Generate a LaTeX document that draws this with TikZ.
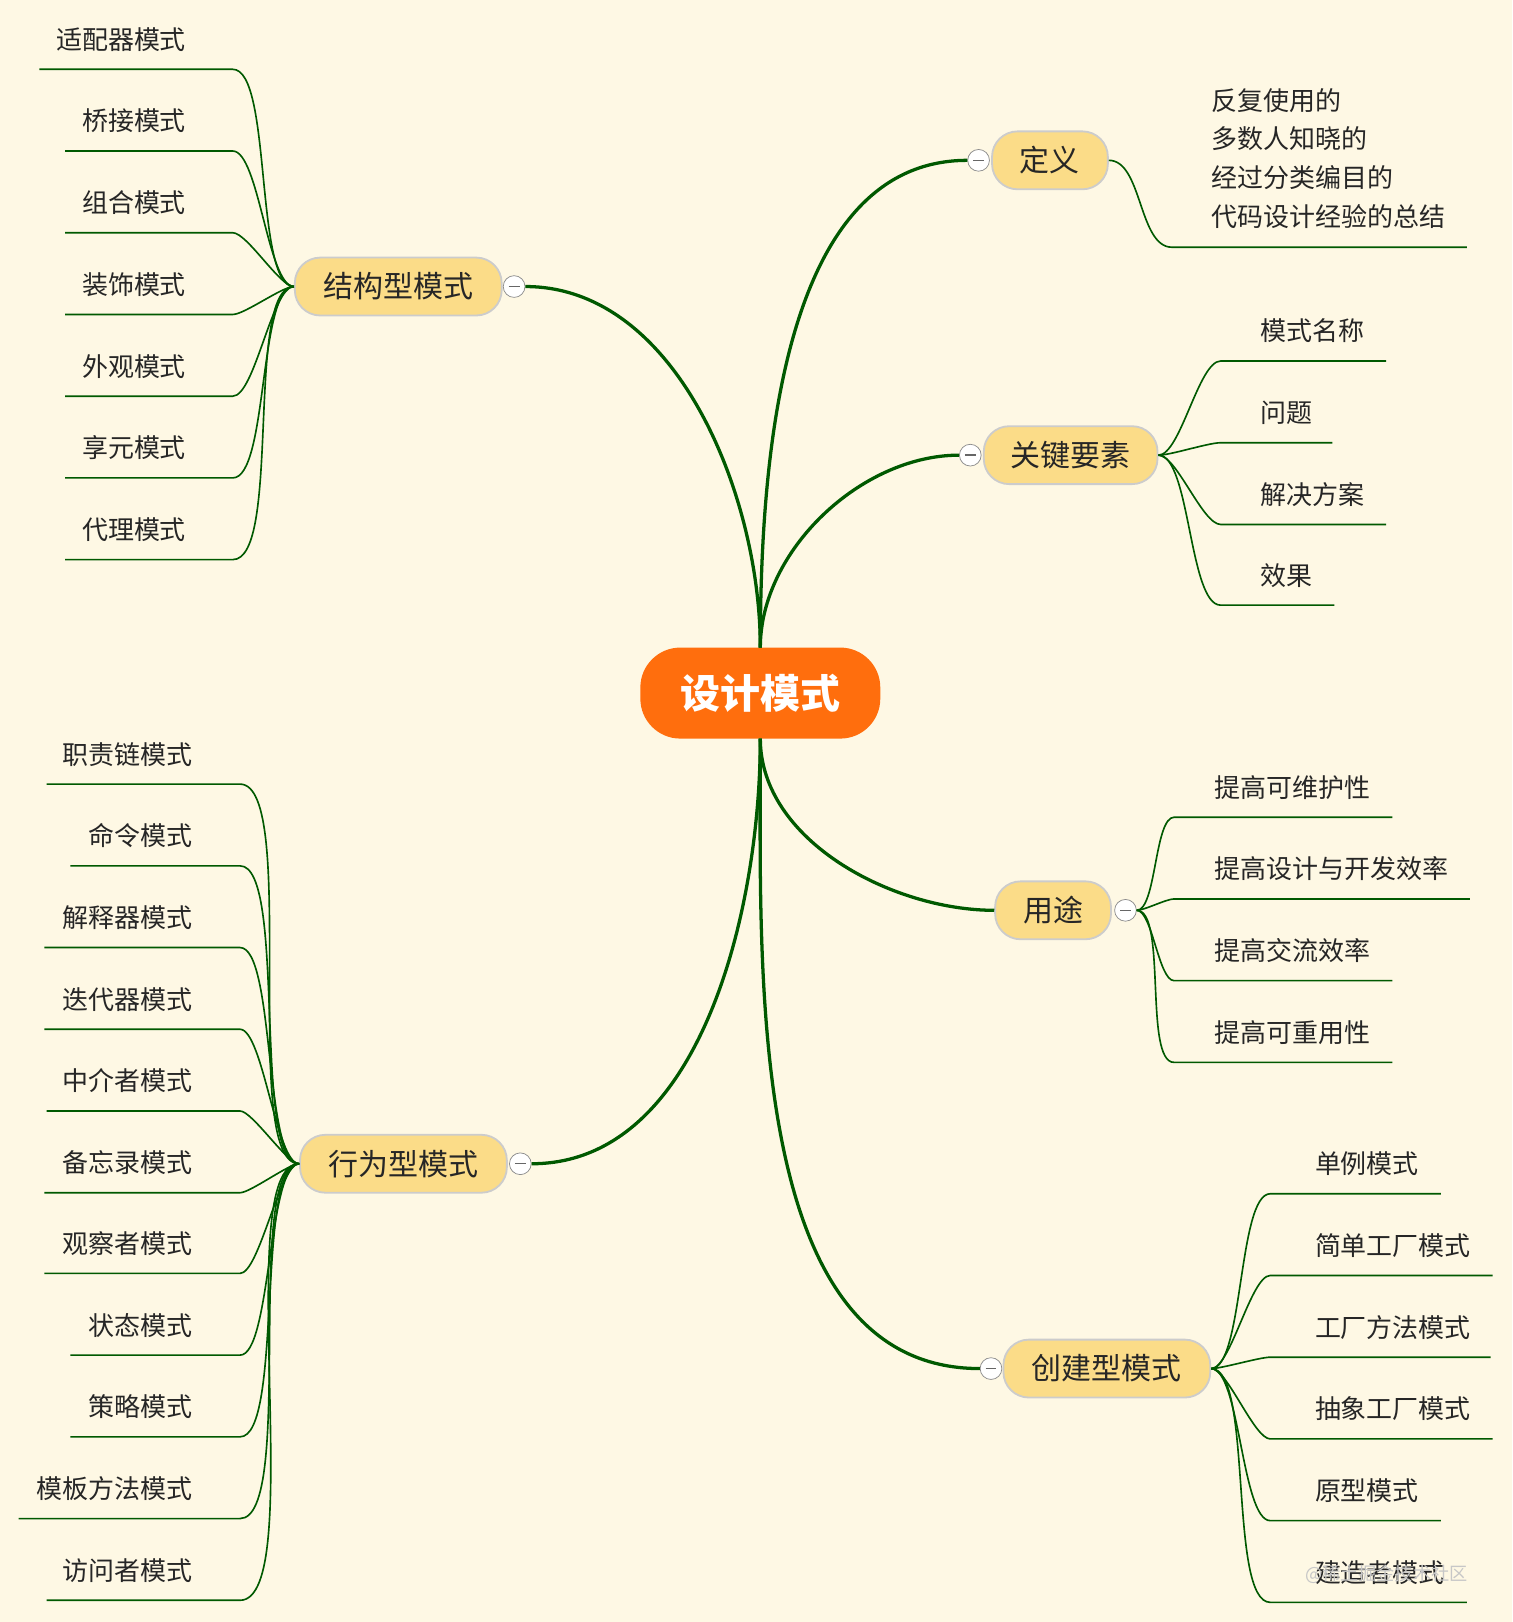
\documentclass[tikz,border=0pt]{standalone}
\usepackage{fontspec}
\setmainfont{Noto Sans CJK SC}
\definecolor{bg}{RGB}{254,248,228}
\definecolor{br}{RGB}{251,220,136}
\begin{document}
\begin{tikzpicture}[x=0.02cm,y=-0.02cm,
  branch/.style={draw=black!20,line width=1pt,fill=br,rounded corners=14pt,minimum height=1.12cm,font=\fontsize{16.5}{18}\selectfont,text=black!85},
  main/.style={draw=green!35!black,line width=1.8pt},
  leafline/.style={draw=green!35!black,line width=0.9pt},
  leaf/.style={font=\fontsize{14.3}{16}\selectfont,text=black!85},
  coll/.style={circle,draw=black!45,fill=white,minimum size=0.42cm,inner sep=0pt,path picture={\draw[black!60,line width=0.8pt] ([xshift=-3pt]path picture bounding box.center)--([xshift=3pt]path picture bounding box.center);}}]
\fill[bg] (0,0) rectangle (1462,1568);
\useasboundingbox (0,0) rectangle (1462,1568);
% center
\node[fill=orange!80!red!95,rounded corners=22pt,minimum width=4.64cm,minimum height=1.76cm,text=white,font=\fontsize{22}{24}\selectfont\bfseries] (c) at (735,670) {设计模式};
\coordinate (ct) at (735,626); \coordinate (cb) at (735,714);
% branches
\node[branch,minimum width=2.24cm] (def) at (1015,155) {定义};
\node[branch,minimum width=3.36cm] (key) at (1035,440) {关键要素};
\node[branch,minimum width=4cm] (str) at (385,277) {结构型模式};
\node[branch,minimum width=2.24cm] (use) at (1018,880) {用途};
\node[branch,minimum width=4cm] (beh) at (390,1125) {行为型模式};
\node[branch,minimum width=4cm] (cre) at (1070,1323) {创建型模式};
\node[coll] (kdef) at (946,155) {};
\node[coll] (kkey) at (938,440) {};
\node[coll] (kstr) at (497,277) {};
\node[coll] (kuse) at (1088,880) {};
\node[coll] (kbeh) at (503,1125) {};
\node[coll] (kcre) at (958,1323) {};
\draw[main] (ct) to[out=90,in=180,looseness=0.9] (kdef.west);
\draw[main] (ct) to[out=90,in=180,looseness=0.9] (kkey.west);
\draw[main] (ct) to[out=90,in=0,looseness=0.9] (kstr.east);
\draw[main] (cb) to[out=-90,in=180,looseness=0.9] (use.west);
\draw[main] (cb) to[out=-90,in=0,looseness=0.9] (kbeh.east);
\draw[main] (cb) to[out=-90,in=180,looseness=0.9] (kcre.west);
% definition leaf
\coordinate (d0) at (1133,239); \coordinate (d1) at (1418,239);
\draw[leafline] (def.east) to[out=0,in=180,looseness=0.8] (d0) -- (d1);
\node[leaf,anchor=west,align=left,font=\fontsize{14.3}{21.3}\selectfont] (dt) at (1165,153) {反复使用的\\多数人知晓的\\经过分类编目的\\代码设计经验的总结};
% structural
\foreach \t/\y/\l [count=\i] in {适配器模式/67/38,桥接模式/146/63,组合模式/225/63,装饰模式/304/63,外观模式/383/63,享元模式/462/63,代理模式/541/63}{
  \coordinate (s\i a) at (225,\y); \coordinate (s\i b) at (\l,\y);
  \draw[leafline] (str.west) to[out=180,in=0,looseness=0.45] (s\i a) -- (s\i b);
  \node[leaf,anchor=east] (s\i) at (186,\y-29) {\t};
}
% key elements
\foreach \t/\y/\e [count=\i] in {模式名称/349/1340,问题/428/1288,解决方案/507/1340,效果/585/1290}{
  \coordinate (k\i a) at (1180,\y); \coordinate (k\i b) at (\e,\y);
  \draw[leafline] (key.east) to[out=0,in=180,looseness=0.5] (k\i a) -- (k\i b);
  \node[leaf,anchor=west] (k\i) at (1212,\y-29) {\t};
}
% use
\foreach \t/\y/\e [count=\i] in {提高可维护性/790/1346,提高设计与开发效率/869/1421,提高交流效率/948/1346,提高可重用性/1027/1346}{
  \coordinate (u\i a) at (1135,\y); \coordinate (u\i b) at (\e,\y);
  \draw[leafline] (kuse.east) to[out=0,in=180,looseness=0.5] (u\i a) -- (u\i b);
  \node[leaf,anchor=west] (u\i) at (1168,\y-29) {\t};
}
% behavioural
\foreach \t/\y/\l [count=\i] in {职责链模式/758/45,命令模式/837/68,解释器模式/916/43,迭代器模式/995/43,中介者模式/1074/45,备忘录模式/1153/43,观察者模式/1231/43,状态模式/1310/68,策略模式/1389/68,模板方法模式/1468/18,访问者模式/1547/45}{
  \coordinate (b\i a) at (232,\y); \coordinate (b\i b) at (\l,\y);
  \draw[leafline] (beh.west) to[out=180,in=0,looseness=0.4] (b\i a) -- (b\i b);
  \node[leaf,anchor=east] (b\i) at (192,\y-29) {\t};
}
% creational
\foreach \t/\y/\e [count=\i] in {单例模式/1154/1393,简单工厂模式/1233/1443,工厂方法模式/1312/1441,抽象工厂模式/1391/1443,原型模式/1470/1393,建造者模式/1549/1418}{
  \coordinate (r\i a) at (1228,\y); \coordinate (r\i b) at (\e,\y);
  \draw[leafline] (cre.east) to[out=0,in=180,looseness=0.45] (r\i a) -- (r\i b);
  \node[leaf,anchor=west] (r\i) at (1265,\y-29) {\t};
}
\node[font=\fontsize{10}{12}\selectfont,text=black!22,anchor=east] (wm) at (1425,1522) {@稀土掘金技术社区};
\end{tikzpicture}
\end{document}
